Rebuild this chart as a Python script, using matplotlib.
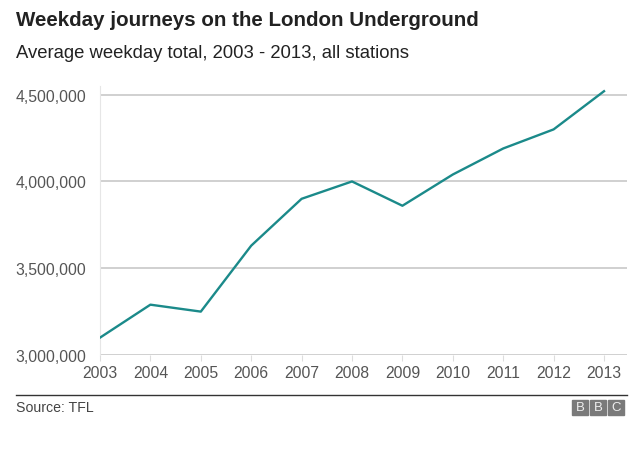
import matplotlib
matplotlib.use("Agg")
import matplotlib.pyplot as plt
from matplotlib.patches import Rectangle
from matplotlib.ticker import FuncFormatter

plt.rcParams['font.family'] = ['Liberation Sans', 'DejaVu Sans']

# Data
years = [2003, 2004, 2005, 2006, 2007, 2008, 2009, 2010, 2011, 2012, 2013]
journeys = [3100000, 3290000, 3250000, 3630000, 3900000, 4000000,
            3860000, 4040000, 4190000, 4300000, 4520000]
y_ticks = [3000000, 3500000, 4000000, 4500000]

fig = plt.figure(figsize=(6.4, 4.77), dpi=100)
ax = fig.add_axes([100 / 640, 1 - 356 / 477, 527 / 640, 269 / 477])

# Grid lines
for t in y_ticks:
    ax.axhline(t, color='#c8c8c8', linewidth=1.2, zorder=1)

ax.plot(years, journeys, color='#1b8a8a', linewidth=1.7, zorder=3)

ax.set_xlim(2003, 2013.456)
ax.set_ylim(3000000, 4550000)
ax.set_yticks(y_ticks)
ax.yaxis.set_major_formatter(FuncFormatter(lambda v, p: f"{int(v):,}"))
ax.set_xticks(years)

for s in ['top', 'right', 'bottom']:
    ax.spines[s].set_visible(False)
ax.spines['left'].set_color('#e6e6e6')
ax.spines['left'].set_linewidth(0.8)

ax.tick_params(axis='y', length=0, pad=10, labelsize=11.3, labelcolor='#555555')
ax.tick_params(axis='x', length=4, color='#dddddd', pad=3, labelsize=11.3,
               labelcolor='#555555')

# Title and subtitle
fig.text(16 / 640, 1 - 20 / 477, "Weekday journeys on the London Underground",
         fontsize=14.8, fontweight='bold', color='#222222', va='center', ha='left')
fig.text(16 / 640, 1 - 53 / 477, "Average weekday total, 2003 - 2013, all stations",
         fontsize=13.3, color='#222222', va='center', ha='left')

# Footer
fig.add_artist(plt.Line2D([16 / 640, 627 / 640], [1 - 396 / 477, 1 - 396 / 477],
                          color='#333333', linewidth=1))
fig.text(16 / 640, 1 - 408 / 477, "Source: TFL", fontsize=10.2, color='#444444',
         va='center', ha='left')

for i, letter in enumerate("BBC"):
    x0 = 572 + i * 18
    fig.add_artist(Rectangle((x0 / 640, 1 - 416 / 477), 16 / 640, 15 / 477,
                             transform=fig.transFigure, color='#7a7a7a'))
    fig.text((x0 + 8) / 640, 1 - 408.5 / 477, letter, fontsize=9.5, color='#eeeeee',
             ha='center', va='center')

fig.savefig("out.png", dpi=100)
